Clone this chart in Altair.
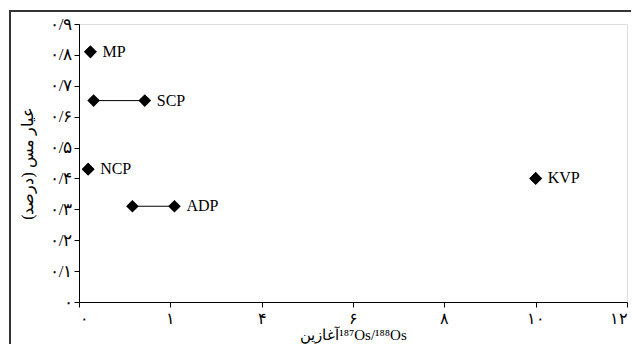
import altair as alt
import pandas as pd

names = ["MP", "SCP", "NCP", "ADP", "KVP"]
x_min = [0.25, 0.32, 0.20, 1.17, 10.0]
x_max = [0.25, 1.44, 0.20, 2.09, 10.0]
cu = [0.81, 0.652, 0.43, 0.31, 0.40]

x_ticks = [0, 2, 4, 6, 8, 10, 12]
x_tick_labels = ["۰", "۱", "۴", "۶", "۸", "۱۰", "۱۲"]
y_ticks = [0, 0.1, 0.2, 0.3, 0.4, 0.5, 0.6, 0.7, 0.8, 0.9]
y_tick_labels = ["۰", "۰/۱", "۰/۲", "۰/۳", "۰/۴", "۰/۵", "۰/۶", "۰/۷", "۰/۸", "۰/۹"]

x_title = "آغازین\u200e¹⁸⁷Os/¹⁸⁸Os"
y_title = "عیار مس (درصد)"

FONT = "Liberation Serif"


def label_expr(values, labels):
    expr = "''"
    for v, l in reversed(list(zip(values, labels))):
        expr = f"abs(datum.value - {v}) < 1e-6 ? '{l}' : ({expr})"
    return expr


ranges = pd.DataFrame({"name": names, "xmin": x_min, "xmax": x_max, "cu": cu})
points = pd.DataFrame({
    "x": x_min + x_max,
    "cu": cu + cu,
})

xs = alt.Scale(domain=[0, 12], nice=False)
ys = alt.Scale(domain=[0, 0.9], nice=False)

xaxis = alt.Axis(values=x_ticks, labelExpr=label_expr(x_ticks, x_tick_labels),
                 grid=False, domainColor="black", tickColor="black", tickSize=5,
                 labelFontSize=16, labelPadding=3, labelColor="black", labelOverlap=False,
                 title=x_title, titleFontSize=15, titleFont=FONT, titleFontWeight="normal",
                 titlePadding=1, titleColor="black", labelFont=FONT)
yaxis = alt.Axis(values=y_ticks, labelExpr=label_expr(y_ticks, y_tick_labels),
                 grid=False, domainColor="black", tickColor="black", tickSize=5,
                 labelFontSize=17, labelPadding=2, labelColor="black", labelOverlap=False,
                 title=y_title, titleFontSize=16, titleFont=FONT, titleFontWeight="normal",
                 titlePadding=14, titleColor="black", labelFont=FONT)

X = lambda f: alt.X(f, scale=xs, axis=xaxis)
Y = lambda f: alt.Y(f, scale=ys, axis=yaxis)

rules = alt.Chart(ranges).mark_rule(color="black", strokeWidth=1).encode(
    x=X("xmin:Q"),
    x2="xmax:Q",
    y=Y("cu:Q"),
)

pts = alt.Chart(points).mark_point(shape="diamond", filled=True, color="black",
                                   size=160, opacity=1).encode(
    x=X("x:Q"),
    y=Y("cu:Q"),
)

labels = alt.Chart(ranges).mark_text(align="left", baseline="middle", dx=12,
                                     font=FONT, fontSize=16, color="black").encode(
    x=X("xmax:Q"),
    y=Y("cu:Q"),
    text="name:N",
)

frame = alt.Chart(alt.Data(values=[{}])).mark_rect(
    fill=None, stroke="#333", strokeWidth=2
).encode(
    x=alt.value(-69), x2=alt.value(700), y=alt.value(-13), y2=alt.value(400)
)

chart = alt.layer(frame, rules, pts, labels).properties(
    width=548, height=278,
    autosize=alt.AutoSizeParams(type="none"),
    padding={"left": 71, "top": 16, "right": 4, "bottom": 42},
).configure_view(stroke=None).configure(background="white")

chart.save("out.html", embed_options={"renderer": "svg", "actions": False})
